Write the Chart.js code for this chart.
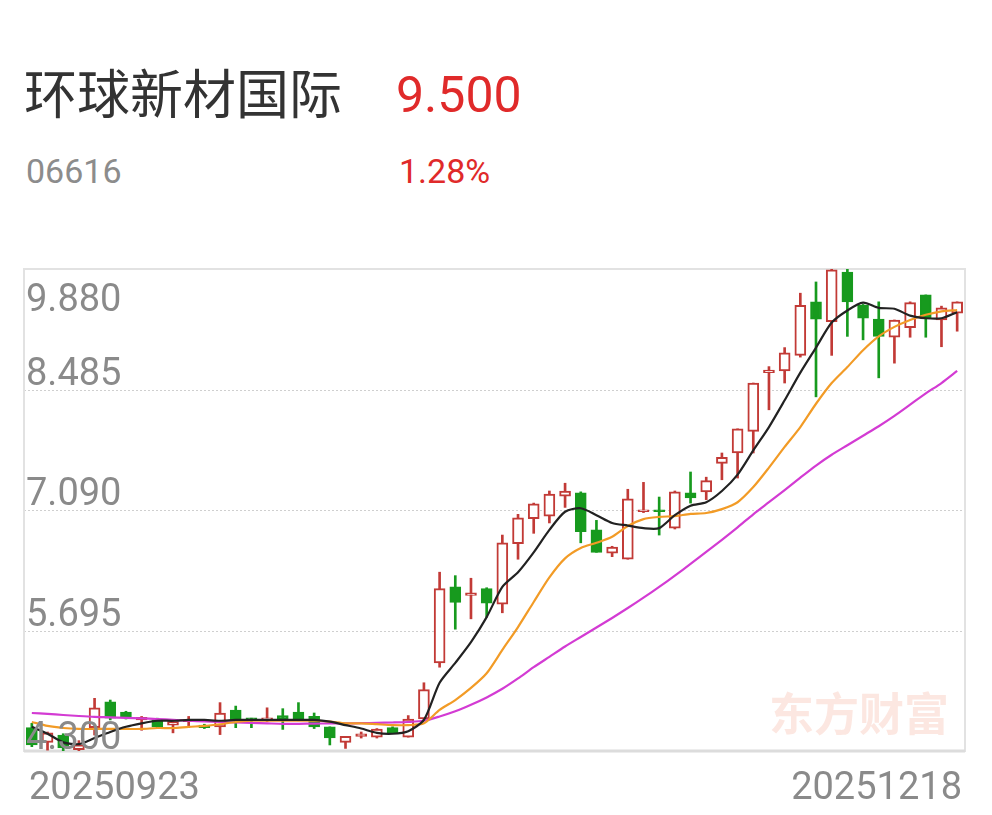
<!DOCTYPE html>
<html>
<head>
<meta charset="utf-8">
<script src="https://cdn.jsdelivr.net/npm/chart.js@4.4.1/dist/chart.umd.min.js"></script>
<style>
  body { margin: 0; background: #fff; }
  #wrap { position: relative; width: 992px; height: 815px; overflow: hidden; }
  .t { position: absolute; white-space: nowrap; line-height: 1; }
  #name { left: 24px; top: 53px; font: 53px "Noto Sans CJK SC", sans-serif; color: #333; }
  #price { left: 396px; top: 66px; font: 50px Roboto, sans-serif; color: #E02A2A; }
  #code { left: 26px; top: 151px; font: 34px Roboto, sans-serif; color: #8c8c8c; }
  #pct { left: 399px; top: 151px; font: 34px Roboto, sans-serif; color: #E02A2A; }
  canvas { position: absolute; left: 0; top: 0; }
</style>
</head>
<body>
<div id="wrap">
  <div class="t" id="name">环球新材国际</div>
  <div class="t" id="price">9.500</div>
  <div class="t" id="code">06616</div>
  <div class="t" id="pct">1.28%</div>
  <canvas id="kChart" width="992" height="815"></canvas>
</div>
<script>
// trading days shown
const dates = [
  "20250923","20250924","20250925","20250926","20250929","20250930",
  "20251002","20251003","20251006","20251008","20251009","20251010",
  "20251013","20251014","20251015","20251016","20251017",
  "20251020","20251021","20251022","20251023","20251024",
  "20251027","20251028","20251030","20251031",
  "20251103","20251104","20251105","20251106","20251107",
  "20251110","20251111","20251112","20251113","20251114",
  "20251117","20251118","20251119","20251120","20251121",
  "20251124","20251125","20251126","20251127","20251128",
  "20251201","20251202","20251203","20251204","20251205",
  "20251208","20251209","20251210","20251211","20251212",
  "20251215","20251216","20251217","20251218"
];

const openP = [4.57,4.40,4.485,4.315,4.57,4.87,4.75,4.66,4.66,4.60,
  4.64,4.60,4.58,4.775,4.67,4.66,4.71,4.75,4.70,4.58,
  4.40,4.47,4.46,4.57,4.46,4.67,5.32,6.20,6.10,6.18,
  6.00,6.70,6.99,7.02,7.25,7.29,6.86,6.59,6.52,7.07,
  7.09,6.88,7.29,7.30,7.63,7.75,8.00,8.68,8.70,8.88,
  9.50,9.27,9.845,9.46,9.30,9.09,9.20,9.58,9.29,9.37];
const highP = [4.62,4.52,4.50,4.42,4.91,4.89,4.76,4.70,4.68,4.65,
  4.70,4.61,4.86,4.82,4.68,4.80,4.79,4.86,4.74,4.58,
  4.47,4.52,4.56,4.58,4.71,5.09,6.37,6.33,6.30,6.19,
  6.80,7.04,7.17,7.31,7.40,7.30,6.97,6.67,7.33,7.41,
  7.24,7.31,7.53,7.47,7.75,8.03,8.56,8.75,8.97,9.60,
  9.73,9.88,9.89,9.47,9.50,9.29,9.50,9.58,9.45,9.50];
const lowP = [4.35,4.31,4.30,4.30,4.485,4.66,4.67,4.54,4.57,4.51,
  4.57,4.56,4.49,4.57,4.57,4.64,4.55,4.65,4.56,4.37,
  4.33,4.45,4.45,4.50,4.46,4.66,5.27,5.71,5.83,5.85,
  5.90,6.52,6.82,6.94,7.12,6.71,6.60,6.55,6.52,7.06,
  6.80,6.87,7.17,7.21,7.44,7.46,7.75,8.25,8.56,8.86,
  8.40,8.88,9.10,9.06,8.62,8.79,9.09,9.09,8.98,9.16];
const closeP = [4.37,4.51,4.335,4.37,4.80,4.68,4.69,4.69,4.58,4.64,
  4.65,4.57,4.74,4.66,4.66,4.68,4.67,4.67,4.58,4.45,
  4.47,4.50,4.555,4.51,4.67,5.01,6.18,6.02,6.13,6.01,
  6.71,7.00,7.16,7.275,7.31,6.84,6.60,6.66,7.22,7.09,
  7.07,7.30,7.23,7.43,7.70,8.03,8.56,8.71,8.91,9.46,
  9.30,9.87,9.50,9.31,9.10,9.29,9.49,9.31,9.43,9.50];

const ma5 = [4.58,4.50,4.40,4.38,4.45,4.52,4.58,4.62,4.65,4.65,
  4.66,4.66,4.65,4.66,4.66,4.66,4.66,4.66,4.66,4.64,
  4.60,4.56,4.51,4.50,4.53,4.66,5.09,5.32,5.56,5.85,
  6.20,6.37,6.60,6.86,7.07,7.11,7.03,6.94,6.91,6.88,
  6.88,7.03,7.14,7.18,7.31,7.50,7.78,8.05,8.36,8.68,
  8.97,9.26,9.40,9.49,9.43,9.42,9.34,9.31,9.31,9.38];
const ma10 = [4.636,4.59,4.566,4.555,4.555,4.555,4.555,4.555,4.566,4.566,
  4.58,4.59,4.61,4.636,4.65,4.65,4.65,4.65,4.65,4.64,
  4.62,4.62,4.61,4.60,4.60,4.62,4.775,4.89,5.03,5.20,
  5.47,5.735,6.025,6.31,6.53,6.65,6.71,6.78,6.905,6.985,
  7.01,7.02,7.045,7.055,7.10,7.18,7.355,7.58,7.82,8.05,
  8.32,8.56,8.745,8.94,9.10,9.21,9.29,9.35,9.39,9.405];
const ma20 = [4.74,4.73,4.717,4.705,4.695,4.69,4.683,4.677,4.67,4.66,
  4.65,4.643,4.636,4.63,4.625,4.62,4.615,4.615,4.617,4.62,
  4.62,4.622,4.626,4.63,4.636,4.65,4.70,4.76,4.835,4.92,
  5.02,5.14,5.27,5.39,5.51,5.62,5.73,5.84,5.955,6.075,
  6.20,6.33,6.465,6.605,6.745,6.89,7.04,7.18,7.32,7.465,
  7.605,7.73,7.84,7.95,8.06,8.18,8.31,8.44,8.56,8.70];

const yTicks = [4.300, 5.695, 7.090, 8.485, 9.880];
const xTickLabels = ["20250923", "20251218"];

const UP = "#C23A36";
const DOWN = "#179A1E";
const isUp = (i) => closeP[i] >= openP[i];

const framePlugin = {
  id: "frame",
  beforeDatasetsDraw(chart) {
    const { ctx, chartArea: a, scales } = chart;
    ctx.save();
    // watermark
    ctx.font = "bold 45px 'Noto Sans CJK SC'";
    ctx.fillStyle = "rgba(238,120,90,0.18)";
    ctx.textAlign = "right";
    ctx.textBaseline = "alphabetic";
    ctx.fillText("东方财富", a.right - 16, a.bottom - 20);
    // inner dotted grid
    ctx.strokeStyle = "#cfcfcf";
    ctx.lineWidth = 1;
    ctx.setLineDash([2, 2]);
    yTicks.slice(1, -1).forEach((v) => {
      const y = Math.round(scales.y.getPixelForValue(v)) + 0.5;
      ctx.beginPath();
      ctx.moveTo(a.left, y);
      ctx.lineTo(a.right, y);
      ctx.stroke();
    });
    ctx.setLineDash([]);
    // frame
    ctx.strokeStyle = "#e2e2e2";
    ctx.lineWidth = 2;
    ctx.strokeRect(a.left, a.top, a.right - a.left, a.bottom - a.top);
    ctx.strokeStyle = "#dcdcdc";
    ctx.lineWidth = 3;
    ctx.beginPath();
    ctx.moveTo(a.left, a.bottom);
    ctx.lineTo(a.right, a.bottom);
    ctx.stroke();
    ctx.restore();
  },
  afterDatasetsDraw(chart) {
    const { ctx, chartArea: a, scales } = chart;
    ctx.save();
    ctx.font = "38px Roboto";
    ctx.fillStyle = "#8a8a8a";
    ctx.textAlign = "left";
    ctx.textBaseline = "alphabetic";
    yTicks.forEach((v, i) => {
      const y = scales.y.getPixelForValue(v);
      let base = y - 5;
      if (i === yTicks.length - 1) base = y + 42;
      if (i === 0) base = y - 2;
      ctx.fillText(v.toFixed(3), a.left + 2, base);
    });
    ctx.fillText(xTickLabels[0], a.left + 5, a.bottom + 48);
    ctx.textAlign = "right";
    ctx.fillText(xTickLabels[1], a.right - 3, a.bottom + 48);
    ctx.restore();
  }
};

new Chart(document.getElementById("kChart"), {
  data: {
    labels: dates,
    datasets: [
      {
        type: "line", label: "MA5", data: ma5, order: 0,
        borderColor: "#222222", borderWidth: 2.2, pointRadius: 0, tension: 0.25
      },
      {
        type: "line", label: "MA10", data: ma10, order: 0,
        borderColor: "#F29B26", borderWidth: 2.2, pointRadius: 0, tension: 0.25
      },
      {
        type: "line", label: "MA20", data: ma20, order: 0,
        borderColor: "#D33BD3", borderWidth: 2.2, pointRadius: 0, tension: 0.25
      },
      {
        type: "bar", label: "body", order: 2, grouped: false,
        data: dates.map((d, i) => [openP[i], closeP[i]]),
        backgroundColor: (c) => isUp(c.dataIndex) ? "#ffffff" : DOWN,
        borderColor: (c) => isUp(c.dataIndex) ? UP : DOWN,
        borderWidth: 2, borderSkipped: false, barThickness: 11, minBarLength: 2
      },
      {
        type: "bar", label: "wick", order: 3, grouped: false,
        data: dates.map((d, i) => [lowP[i], highP[i]]),
        backgroundColor: (c) => isUp(c.dataIndex) ? UP : DOWN,
        barThickness: 2
      }
    ]
  },
  options: {
    responsive: false,
    animation: false,
    layout: { padding: { left: 24, right: 27, top: 269, bottom: 64 } },
    plugins: { legend: { display: false }, tooltip: { enabled: false } },
    scales: {
      x: { type: "category", display: false, offset: true },
      y: { display: false, min: 4.3, max: 9.88 }
    }
  },
  plugins: [framePlugin]
});
</script>
</body>
</html>
